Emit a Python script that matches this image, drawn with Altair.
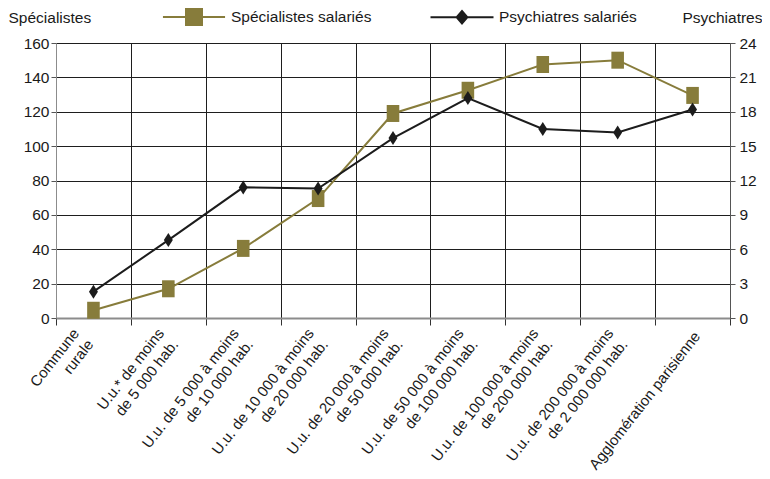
import altair as alt
import pandas as pd

# ---- data ----
categories = [
    "Commune|rurale",
    "U.u.* de moins|de 5 000 hab.",
    "U.u. de 5 000 à moins|de 10 000 hab.",
    "U.u. de 10 000 à moins|de 20 000 hab.",
    "U.u. de 20 000 à moins|de 50 000 hab.",
    "U.u. de 50 000 à moins|de 100 000 hab.",
    "U.u. de 100 000 à moins|de 200 000 hab.",
    "U.u. de 200 000 à moins|de 2 000 000 hab.",
    "Agglomération parisienne",
]
specialistes = [4.5, 17, 40.5, 69.5, 119, 132.5, 147.5, 150, 129.5]
psychiatres = [2.3, 6.8, 11.4, 11.3, 15.7, 19.2, 16.5, 16.2, 18.2]
series_names = ["Spécialistes salariés", "Psychiatres salariés"]
left_ticks = [0, 20, 40, 60, 80, 100, 120, 140, 160]
right_ticks = [0, 3, 6, 9, 12, 15, 18, 21, 24]

OLIVE = "#877c3b"
BLACK = "#1c1c1c"
TEXT = "#1a1a1a"
FONT = "Liberation Sans"
FS = 15.5

df_spec = pd.DataFrame({"cat": categories, "val": specialistes})
df_psy = pd.DataFrame({"cat": categories, "val": psychiatres})
df_leg = pd.DataFrame({"serie": series_names})

one_line = "datum.value == 'Agglomération parisienne'"
first_cat = "datum.value == 'Commune|rurale'"

x_enc = alt.X(
    "cat:N",
    sort=categories,
    scale=alt.Scale(type="band", paddingInner=0, paddingOuter=0),
    axis=alt.Axis(
        title=None,
        labelExpr="split(datum.label, '|')",
        labelAngle=308,
        labelAlign="right",
        labelBaseline="middle",
        labelFontSize=15,
        labelPadding={"condition": {"test": one_line, "value": 8}, "value": 5},
        labelOffset={
            "condition": [
                {"test": one_line, "value": 4},
                {"test": first_cat, "value": -18},
            ],
            "value": -8,
        },
        labelLineHeight=18,
        labelLimit=400,
        labelOverlap=False,
        labelBound=False,
        labelFlush=False,
        tickBand="extent",
        tickSize=7,
        tickColor="#333333",
        grid=True,
        gridColor="#1e1e1e",
        gridWidth=1,
        domainColor="#8c8c8c",
        domainWidth=2,
    ),
)

y_spec = alt.Y(
    "val:Q",
    scale=alt.Scale(domain=[0, 160], nice=False),
    axis=alt.Axis(
        values=left_ticks,
        title="Spécialistes",
        titleAngle=0,
        titleAlign="left",
        titleBaseline="alphabetic",
        titleX=-48,
        titleY=-21,
        grid=True,
        gridColor="#1e1e1e",
        gridWidth=1,
        tickSize=5,
        tickColor="#555555",
        labelPadding=2,
        labelOverlap=False,
        domainColor="#8c8c8c",
    ),
)

y_psy = alt.Y(
    "val:Q",
    scale=alt.Scale(domain=[0, 24], nice=False),
    axis=alt.Axis(
        values=right_ticks,
        orient="right",
        title="Psychiatres",
        titleAngle=0,
        titleAlign="right",
        titleBaseline="alphabetic",
        titleX=32,
        titleY=-21,
        grid=False,
        tickSize=5,
        tickColor="#555555",
        labelPadding=4,
        labelOverlap=False,
        domainColor="#555555",
    ),
)

rect_path = "M-0.74,-1H0.74V1H-0.74Z"
diamond_path = "M0,-1L0.64,0L0,1L-0.64,0Z"

spec_line = alt.Chart(df_spec).mark_line(color=OLIVE, strokeWidth=2).encode(x=x_enc, y=y_spec)
spec_pts = alt.Chart(df_spec).mark_point(
    filled=True, opacity=1, shape=rect_path, size=289, color=OLIVE
).encode(x=x_enc, y=y_spec)

psy_line = alt.Chart(df_psy).mark_line(color=BLACK, strokeWidth=2).encode(x=x_enc, y=y_psy)
psy_pts = alt.Chart(df_psy).mark_point(
    filled=True, opacity=1, shape=diamond_path, size=196, color=BLACK
).encode(x=x_enc, y=y_psy)

leg_spec_path = "M-3.45,-0.11H3.45V0.11H-3.45Z M-1,-1H1V1H-1Z"
leg_psy_path = "M-3.5,-0.11H3.5V0.11H-3.5Z M0,-0.87L0.74,0L0,0.87L-0.74,0Z"

legend_cfg = alt.Legend(
    orient="none",
    legendX=129,
    legendY=-35,
    direction="horizontal",
    title=None,
    symbolSize=324,
    labelOffset=28,
    columnPadding=58,
    labelFontSize=FS,
    labelFont=FONT,
    labelColor=TEXT,
    symbolStrokeWidth=0,
    symbolOpacity=1,
    padding=0,
    labelLimit=400,
)

legend_layer = (
    alt.Chart(df_leg)
    .mark_point(filled=True, opacity=1, size=324)
    .encode(
        color=alt.Color(
            "serie:N",
            scale=alt.Scale(domain=series_names, range=[OLIVE, BLACK]),
            legend=legend_cfg,
        ),
        shape=alt.Shape(
            "serie:N",
            scale=alt.Scale(domain=series_names, range=[leg_spec_path, leg_psy_path]),
            legend=legend_cfg,
        ),
    )
    .transform_filter("false")
)

chart = (
    alt.layer(
        alt.layer(spec_line, spec_pts),
        alt.layer(psy_line, psy_pts),
        legend_layer,
    )
    .resolve_scale(y="independent")
    .properties(
        width=674,
        height=275,
        autosize=alt.AutoSizeParams(type="none"),
        padding={"left": 48, "top": 35, "right": 32, "bottom": 160},
    )
    .configure(font=FONT)
    .configure_view(stroke=None)
    .configure_axis(
        labelFont=FONT,
        labelFontSize=FS,
        labelColor=TEXT,
        labelOverlap=False,
        titleFont=FONT,
        titleFontSize=FS,
        titleFontWeight="normal",
        titleColor=TEXT,
    )
)

chart.save("out.html", embed_options={"renderer": "svg", "actions": False})
